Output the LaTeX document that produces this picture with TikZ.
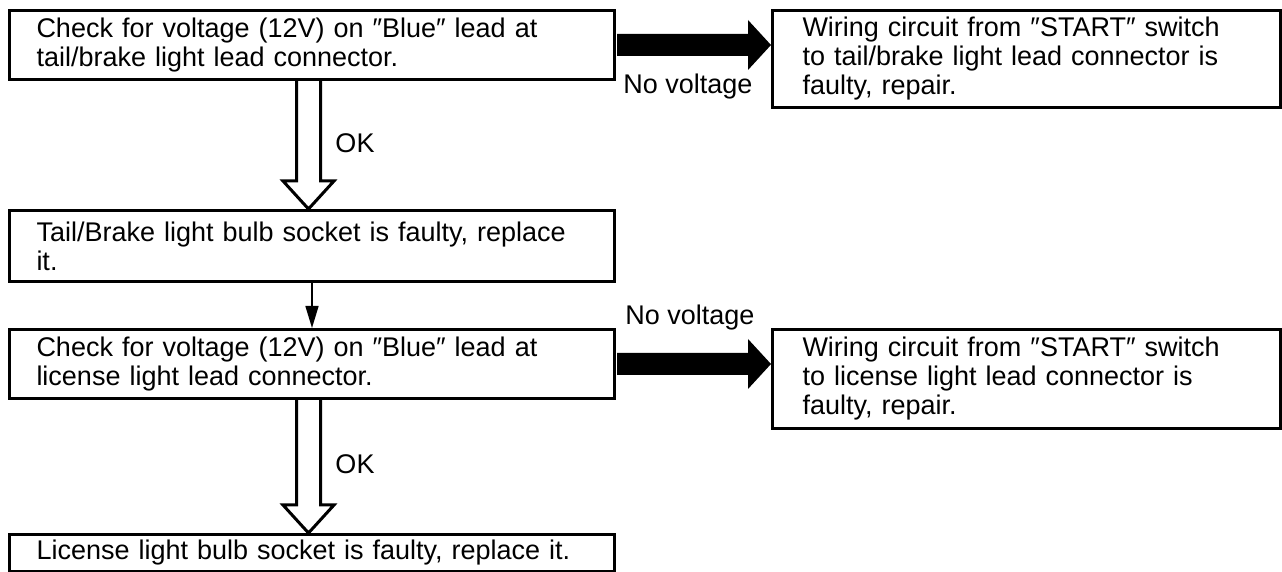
\documentclass[tikz,border=0pt]{standalone}
\usepackage{fontspec}
\setmainfont{Liberation Sans}
\usepackage{tikz}
\usetikzlibrary{calc, positioning, arrows.meta}
\usepackage{xcolor}
\tikzset{
  stepbox/.style={draw, line width=1.5pt, anchor=north west, align=left,
    inner ysep=0pt, font=\fontsize{13.5}{14.5}\selectfont},
  leftbox/.style={stepbox, inner xsep=13.5pt, text width=275.5pt},
  rightbox/.style={stepbox, inner xsep=15pt, text width=224pt},
  lbl/.style={font=\fontsize{13.5}{14.5}\selectfont, inner sep=0pt},
  okshape/.style={line width=1.5pt, line join=miter},
  thinarrow/.style={line width=0.8pt, -{Triangle[length=11pt, width=6.5pt]}}
}
% hollow "OK" arrow from the bottom of #1 to the top of #2
\newcommand{\okarrow}[2]{%
  \draw[okshape] ($(#1.south)+(-15.5,0)$) -- ($(#2.north)+(-15.5,-28)$)
    -- ($(#2.north)+(-29,-28)$) -- ($(#2.north)+(-3.5,0)$) -- ($(#2.north)+(22,-28)$)
    -- ($(#2.north)+(8.5,-28)$) -- ($(#1.south)+(8.5,0)$);
}
% solid "No voltage" arrow from the side of #1 to #2
\newcommand{\nvarrow}[2]{%
  \coordinate (#1tip) at (#1.east -| #2.west);
  \fill ($(#1.east)+(1,-11)$) -- ($(#1tip)+(-23,-11)$) -- ($(#1tip)+(-23,-25)$)
    -- (#1tip) -- ($(#1tip)+(-23,25)$) -- ($(#1tip)+(-23,11)$)
    -- ($(#1.east)+(1,11)$) -- cycle;
}

\begin{document}
\begin{tikzpicture}[x=0.5pt, y=-0.5pt]
  \useasboundingbox (0,0) rectangle (1282,572);
  % tail/brake light
  \node[leftbox, minimum height=34.5pt] (chkTail) at (8,9)
    {Check for voltage (12V) on ″Blue″ lead at\\tail/brake light lead connector.};
  \node[rightbox, minimum height=48.5pt] (wireTail) at (771,9)
    {Wiring circuit from ″START″ switch\\to tail/brake light lead connector is\\faulty, repair.};
  \node[leftbox, minimum height=35.5pt] (bulbTail) at (8,209)
    {Tail/Brake light bulb socket is faulty, replace\\it.};
  % license light
  \node[leftbox, minimum height=34.5pt] (chkLic) at (8,328)
    {Check for voltage (12V) on ″Blue″ lead at\\license light lead connector.};
  \node[rightbox, minimum height=49.5pt] (wireLic) at (771,328)
    {Wiring circuit from ″START″ switch\\to license light lead connector is\\faulty, repair.};
  \node[leftbox, minimum height=18.5pt] (bulbLic) at (8,533)
    {License light bulb socket is faulty, replace it.};

  \nvarrow{chkTail}{wireTail}
  \nvarrow{chkLic}{wireLic}
  \okarrow{chkTail}{bulbTail}
  \okarrow{chkLic}{bulbLic}
  \draw[thinarrow] (bulbTail) -- (chkLic);

  \node[lbl] (nvTail) at (688,87) {No voltage};
  \node[lbl] (nvLic) at (690,318) {No voltage};
  \node[lbl] (okTail) at (355,143) {OK};
  \node[lbl] (okLic) at (355,464) {OK};
\end{tikzpicture}
\end{document}
